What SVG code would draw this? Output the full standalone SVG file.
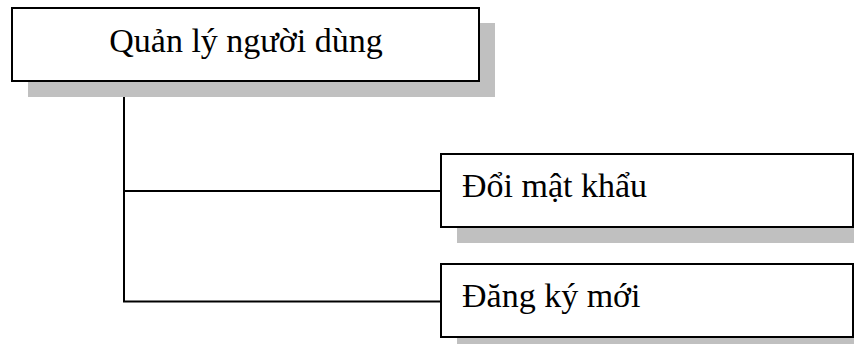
<svg xmlns="http://www.w3.org/2000/svg" width="854" height="344" viewBox="0 0 854 344">
  <style>
    .shadow { fill: #c0c0c0; }
    .box { fill: #ffffff; stroke: #000000; stroke-width: 2; }
    .label { font-family: "Liberation Serif", "Times New Roman", serif; font-size: 34px; fill: #000000; }
    .wire { fill: none; stroke: #000000; stroke-width: 2; }
  </style>
  <rect width="854" height="344" fill="#ffffff"/>

  <!-- connectors -->
  <g id="connectors">
    <path class="wire" d="M124,81 V301.5 H441"/>
    <path class="wire" d="M124,191 H441"/>
  </g>

  <!-- root node -->
  <g id="node-root">
    <rect class="shadow" x="28" y="23" width="467" height="74"/>
    <rect class="box" x="12" y="8" width="467" height="73"/>
    <text class="label" x="246" y="52" text-anchor="middle">Quản lý người dùng</text>
  </g>

  <!-- child: change password -->
  <g id="node-doi-mat-khau">
    <rect class="shadow" x="457" y="170" width="397" height="73"/>
    <rect class="box" x="441" y="154" width="412" height="73"/>
    <text class="label" x="462" y="197">Đổi mật khẩu</text>
  </g>

  <!-- child: register -->
  <g id="node-dang-ky-moi">
    <rect class="shadow" x="457" y="280" width="397" height="64"/>
    <rect class="box" x="441" y="264" width="412" height="73"/>
    <text class="label" x="462" y="307">Đăng ký mới</text>
  </g>
</svg>
